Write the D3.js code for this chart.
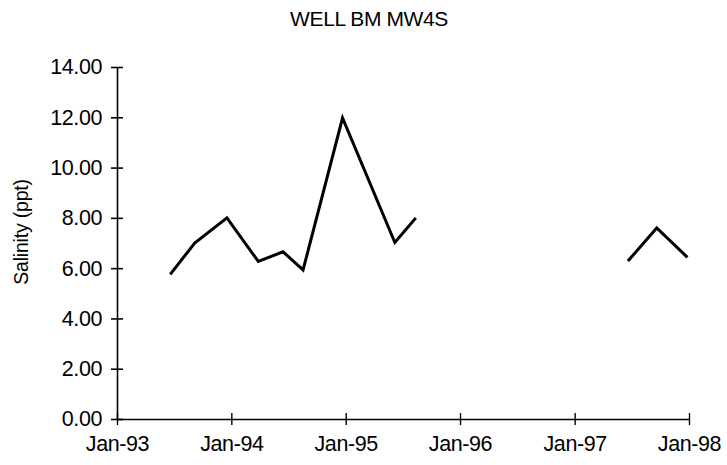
<!DOCTYPE html>
<html>
<head>
<meta charset="utf-8">
<script src="https://cdn.jsdelivr.net/npm/d3@7/dist/d3.min.js"></script>
<style>
  html, body { margin: 0; padding: 0; background: #fff; }
  svg { display: block; }
  text { font-family: "Liberation Sans", Arial, sans-serif; fill: #000; }
</style>
</head>
<body>
<svg id="chart" width="727" height="465"></svg>
<script>
// Data
const title = "WELL BM MW4S";
const yLabel = "Salinity (ppt)";
const dates = ["1993-06-20","1993-09-06","1993-12-18","1994-03-28","1994-06-15","1994-08-18","1994-12-22","1995-06-07","1995-08-13",null,"1997-06-20","1997-09-20","1997-12-27"];
const salinity = [5.75, 7.0, 8.0, 6.27, 6.65, 5.93, 11.97, 7.02, 8.0, null, 6.28, 7.6, 6.43];
const yTicks = [0, 2, 4, 6, 8, 10, 12, 14];
const xTickDates = ["1993-01-01","1994-01-01","1995-01-01","1996-01-01","1997-01-01","1998-01-01"];

const parse = d3.utcParse("%Y-%m-%d");
const data = dates.map((d, i) => ({ date: d ? parse(d) : null, value: salinity[i] }));

const svg = d3.select("#chart");
const x = d3.scaleUtc().domain([parse("1993-01-01"), parse("1998-01-01")]).range([117, 689]);
const y = d3.scaleLinear().domain([0, 14]).range([419, 67]);

const FONT = "'Liberation Sans', Arial, sans-serif";

// Title
svg.append("text").attr("x", 369).attr("y", 26).attr("text-anchor", "middle")
  .style("font-size", "21px").style("letter-spacing", "-0.4px").text(title);

// Y axis label
svg.append("text").attr("transform", "translate(28,232) rotate(-90)")
  .attr("text-anchor", "middle").style("font-size", "19.5px").style("letter-spacing", "-0.2px").text(yLabel);

// Y axis
const yAxis = svg.append("g").attr("transform", `translate(${x.range()[0]},0)`)
  .call(d3.axisLeft(y).tickValues(yTicks).tickFormat(d3.format(".2f")).tickSizeInner(6).tickSizeOuter(0).tickPadding(10));
yAxis.select(".domain").attr("stroke", "#000").attr("stroke-width", 1.6);
yAxis.selectAll(".tick line").attr("x1", 6).attr("x2", -6).attr("stroke-width", 1.6);
yAxis.selectAll(".tick text").style("font-size", "21.5px").style("letter-spacing", "-0.4px").attr("x", -15);
yAxis.selectAll("text").style("font-family", FONT);

// X axis
const xAxis = svg.append("g").attr("transform", `translate(0,${y(0)})`)
  .call(d3.axisBottom(x).tickValues(xTickDates.map(parse)).tickFormat(d3.utcFormat("%b-%y")).tickSizeInner(6).tickSizeOuter(0).tickPadding(11));
xAxis.select(".domain").attr("stroke", "#000").attr("stroke-width", 1.6);
xAxis.selectAll(".tick line").attr("y1", -6).attr("y2", 6).attr("stroke-width", 1.4);
xAxis.selectAll(".tick text").style("font-size", "21.5px").style("letter-spacing", "-0.4px");
xAxis.selectAll("text").style("font-family", FONT);

// Line
const line = d3.line()
  .defined(d => d.date !== null && d.value !== null)
  .x(d => x(d.date)).y(d => y(d.value));
svg.append("path").datum(data)
  .attr("fill", "none").attr("stroke", "#000").attr("stroke-width", 3)
  .attr("stroke-linejoin", "miter").attr("d", line);
</script>
</body>
</html>
